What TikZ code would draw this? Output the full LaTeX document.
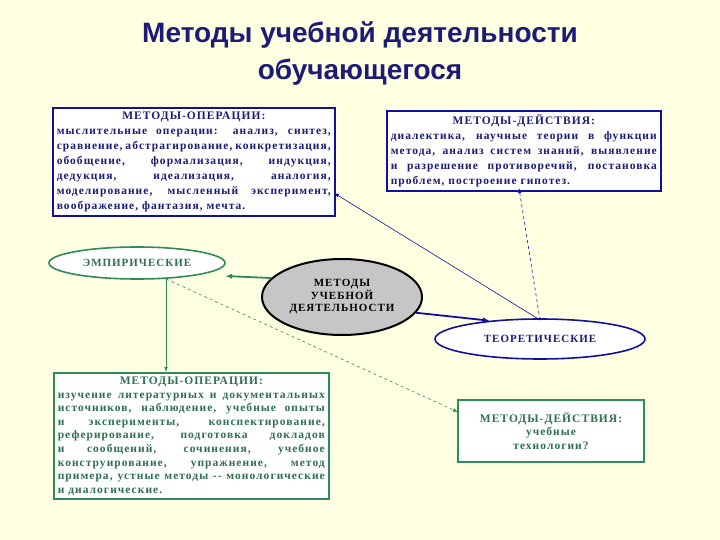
\documentclass[tikz,border=0pt]{standalone}
\usepackage{fontspec}
\setmainfont{Liberation Serif}
\newfontfamily\boxfont[LetterSpace=9]{Liberation Serif}
\newfontfamily\titlefont{Liberation Sans}
\usetikzlibrary{shapes.geometric,arrows.meta,patterns}
\definecolor{bg}{HTML}{FFFFE2}
\definecolor{navy}{HTML}{1C1C78}
\definecolor{blueb}{HTML}{1010A0}
\definecolor{grn}{HTML}{2F8A5C}
\definecolor{grntxt}{HTML}{2E7050}
\tikzset{
 bluebox/.style={draw=blueb,line width=1.6pt,fill=white,text=navy,font=\boxfont\bfseries\fontsize{11.5}{15}\selectfont,align=justify,inner sep=4pt,anchor=north west},
 greenbox/.style={draw=grn,line width=1.6pt,fill=white,text=grntxt,font=\boxfont\bfseries\fontsize{11.5}{13.6}\selectfont,align=justify,inner sep=4pt,anchor=north west},
 ell/.style={ellipse,line width=1.6pt,fill=white,font=\boxfont\bfseries\fontsize{11}{12}\selectfont,inner sep=0pt},
}
\begin{document}
\begin{tikzpicture}[x=1pt,y=1pt]
\fill[bg] (0,0) rectangle (720,-540);
\useasboundingbox (0,0) rectangle (720,-540);
\node[text=navy,font=\titlefont\bfseries\fontsize{28}{37}\selectfont,align=center] (title) at (360,-53) {Методы учебной деятельности\\обучающегося};
% boxes
\node[bluebox,text width=274pt] (tl) at (52,-107) {\centering МЕТОДЫ-ОПЕРАЦИИ:\par мыслительные операции: анализ, синтез, сравнение, абстрагирование, конкретизация, обобщение, формализация, индукция, дедукция, идеализация, аналогия, моделирование, мысленный эксперимент, воображение, фантазия, мечта.};
\node[bluebox,text width=266pt] (tr) at (386,-110) {\centering МЕТОДЫ-ДЕЙСТВИЯ:\par диалектика, научные теории в функции метода, анализ систем знаний, выявление и разрешение противоречий, постановка проблем, построение гипотез.};
\node[greenbox,text width=267pt] (bl) at (53,-372) {\centering МЕТОДЫ-ОПЕРАЦИИ:\par изучение литературных и документальных источников, наблюдение, учебные опыты и эксперименты, конспектирование, реферирование, подготовка докладов и сообщений, сочинения, учебное конструирование, упражнение, метод примера, устные методы -- монологические и диалогические.};
\node[draw=grn,line width=1.6pt,fill=white,text=grntxt,font=\boxfont\bfseries\fontsize{11.5}{13.5}\selectfont,align=center,minimum width=186pt,minimum height=62pt] (br) at (551,-431) {МЕТОДЫ-ДЕЙСТВИЯ:\\учебные\\технологии?};
% ellipses
\node[ell,draw=grn,text=grntxt,minimum width=176pt,minimum height=32pt] (emp) at (137,-263) {ЭМПИРИЧЕСКИЕ};
\node[ell,draw=blueb,text=navy,minimum width=210pt,minimum height=40pt] (teo) at (540,-339) {ТЕОРЕТИЧЕСКИЕ};
\node[ell,draw=black,line width=2pt,fill=gray!45,text=black,minimum width=160pt,minimum height=76pt,align=center,font=\boxfont\bfseries\fontsize{11}{12.5}\selectfont] (mid) at (342,-297) {МЕТОДЫ\\УЧЕБНОЙ\\ДЕЯТЕЛЬНОСТИ};
% connectors
\coordinate (et) at (166,-279);
\coordinate (tt) at (540,-320);
\coordinate (tlp) at (334,-193);
\coordinate (trp) at (519,-188);
\coordinate (brp) at (458,-412);
\coordinate (emr) at (225,-276);
\draw[grn,line width=1.8pt,-{Latex[length=7pt]}] (mid.165) -- (emr);
\draw[blueb,line width=1.8pt,-{Latex[length=7pt]}] (mid.-12) -- (teo.160);
\draw[blueb,line width=0.6pt,-{Latex[length=5pt]}] (tt) -- (tlp);
\draw[blueb,line width=0.6pt,dashed,-{Latex[length=5pt]}] (tt) -- (trp);
\draw[grn,line width=0.6pt,-{Latex[length=5pt]}] (et) -- (et|-bl.north);
\draw[grn,line width=0.6pt,dashed,-{Latex[length=5pt]}] (et) -- (brp);
\end{tikzpicture}
\end{document}
